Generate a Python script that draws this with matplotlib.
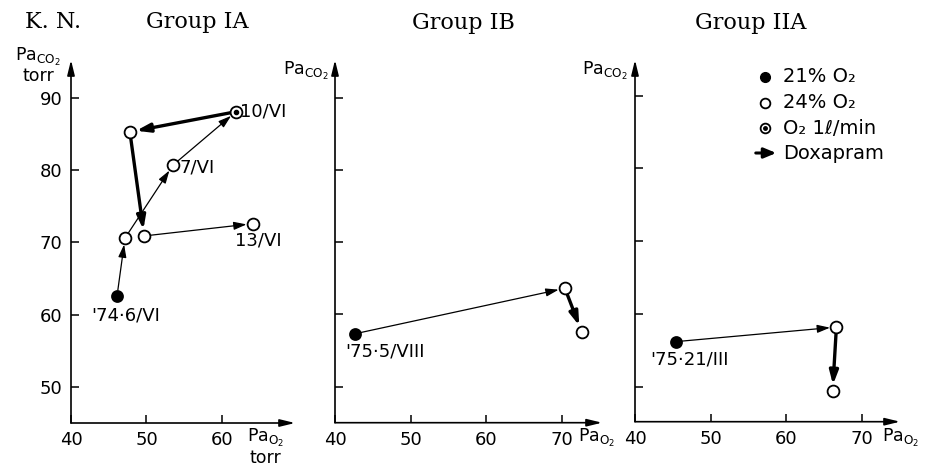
import matplotlib
matplotlib.use("Agg")
import matplotlib.pyplot as plt

# ---------------- data ----------------
titles = ["Group IA", "Group IB", "Group IIA"]

# Group IA (sequential course)
ia_pao2 = [46.1, 47.15, 53.5, 61.85, 47.8, 49.7, 64.1]
ia_paco2 = [62.6, 70.6, 80.7, 88.1, 85.3, 70.9, 72.6]
ia_kind = ["21", "24", "24", "O2", "24", "24", "24"]
ia_doxapram = [False, False, False, True, True, False]
ia_labels = {0: "'74·6/VI", 2: "7/VI", 3: "10/VI", 6: "13/VI"}

# Group IB
ib_pao2 = [42.6, 70.4, 72.6]
ib_paco2 = [57.3, 63.6, 57.6]
ib_kind = ["21", "24", "24"]
ib_doxapram = [False, True]
ib_labels = {0: "'75·5/VIII"}

# Group IIA
iia_pao2 = [45.4, 66.6, 66.1]
iia_paco2 = [56.2, 58.2, 49.4]
iia_kind = ["21", "24", "24"]
iia_doxapram = [False, True]
iia_labels = {0: "'75·21/III"}

y_ticks = [50, 60, 70, 80, 90]
x_ticks_ia = [40, 50, 60]
x_ticks_other = [40, 50, 60, 70]

legend_items = ["21% O₂", "24% O₂", "O₂ 1ℓ/min", "Doxapram"]

# ---------------- figure ----------------
W, H = 930, 470
fig = plt.figure(figsize=(W / 100, H / 100), dpi=100)
fig.patch.set_facecolor("white")
SANS = "DejaVu Sans"
SERIF = "DejaVu Serif"


def fx(px):
    return px / W


def fy(py):
    return 1 - py / H


def make_axes(left, right, bottom, top, xmax, ymin, ymax):
    ax = fig.add_axes([fx(left), fy(bottom), fx(right - left), (bottom - top) / H])
    ax.set_xlim(40, xmax)
    ax.set_ylim(ymin, ymax)
    for s in ax.spines.values():
        s.set_visible(False)
    ax.annotate("", xy=(1, 0), xytext=(0, 0), xycoords="axes fraction",
                arrowprops=dict(arrowstyle="-|>,head_length=0.9,head_width=0.22",
                                lw=1.2, color="k", shrinkA=0, shrinkB=0,
                                mutation_scale=10))
    ax.annotate("", xy=(0, 1), xytext=(0, 0), xycoords="axes fraction",
                arrowprops=dict(arrowstyle="-|>,head_length=0.9,head_width=0.22",
                                lw=1.2, color="k", shrinkA=0, shrinkB=0,
                                mutation_scale=10))
    ax.tick_params(direction="in", length=6, width=1.1, labelsize=13, pad=6,
                   colors="k")
    ax.patch.set_alpha(0)
    return ax


def draw_course(ax, xs, ys, kinds, dox, labels, label_pos):
    for i, d in enumerate(dox):
        if d:
            style = "-|>,head_length=0.5,head_width=0.16"
            lw, ms = 2.4, 16
        else:
            style = "-|>,head_length=0.7,head_width=0.22"
            lw, ms = 0.9, 11
        ax.annotate("", xy=(xs[i + 1], ys[i + 1]), xytext=(xs[i], ys[i]),
                    xycoords="data",
                    arrowprops=dict(arrowstyle=style, lw=lw, color="k",
                                    shrinkA=4.2, shrinkB=4.6, mutation_scale=ms),
                    zorder=2)
    for x, y, k in zip(xs, ys, kinds):
        if k == "21":
            ax.plot(x, y, "o", ms=8, mfc="k", mec="k", mew=1.2, zorder=3,
                    clip_on=False)
        else:
            ax.plot(x, y, "o", ms=8.5, mfc="white", mec="k", mew=1.3, zorder=3,
                    clip_on=False)
            if k == "O2":
                ax.plot(x, y, "o", ms=3, mfc="k", mec="k", zorder=4,
                        clip_on=False)
    for i, txt in labels.items():
        dx, dy, ha, va = label_pos[i]
        ax.annotate(txt, xy=(xs[i], ys[i]), xytext=(dx, dy),
                    textcoords="offset points", ha=ha, va=va, fontsize=13,
                    family=SANS)


# Panel IA
ax1 = make_axes(71, 295, 423, 60, 69.67, 45.0, 95.26)
ax1.set_yticks(y_ticks)
ax1.set_yticklabels([str(v) for v in y_ticks])
ax1.set_xticks(x_ticks_ia)
ax1.set_xticklabels([str(v) for v in x_ticks_ia])
draw_course(ax1, ia_pao2, ia_paco2, ia_kind, ia_doxapram, ia_labels,
            {0: (6, -14, "center", "center"),
             2: (5, -2, "left", "center"),
             3: (3, 0, "left", "center"),
             6: (4, -12, "center", "center")})

# Panel IB
ax2 = make_axes(335, 602, 422.7, 60, 75.3, 45.0, 95.2)
ax2.set_yticks(y_ticks)
ax2.set_yticklabels([])
ax2.set_xticks(x_ticks_other)
ax2.set_xticklabels([str(v) for v in x_ticks_other])
draw_course(ax2, ib_pao2, ib_paco2, ib_kind, ib_doxapram, ib_labels,
            {0: (22, -13, "center", "center")})

# Panel IIA
ax3 = make_axes(635, 900, 421.7, 60, 75.0, 45.2, 94.9)
ax3.set_yticks(y_ticks)
ax3.set_yticklabels([])
ax3.set_xticks(x_ticks_other)
ax3.set_xticklabels([str(v) for v in x_ticks_other])
draw_course(ax3, iia_pao2, iia_paco2, iia_kind, iia_doxapram, iia_labels,
            {0: (10, -13, "center", "center")})

# Titles
fig.text(fx(25), fy(22), "K. N.", family=SERIF, fontsize=16, ha="left", va="center")
fig.text(fx(197), fy(22), titles[0], family=SERIF, fontsize=16, ha="center", va="center")
fig.text(fx(463), fy(23), titles[1], family=SERIF, fontsize=16, ha="center", va="center")
fig.text(fx(751), fy(23), titles[2], family=SERIF, fontsize=16, ha="center", va="center")

# Axis labels
paco2 = r"Pa$_{\mathregular{CO_2}}$"
pao2 = r"Pa$_{\mathregular{O_2}}$"
fig.text(fx(38), fy(57), paco2, family=SANS, fontsize=12.5, ha="center", va="center")
fig.text(fx(38), fy(76), "torr", family=SANS, fontsize=12.5, ha="center", va="center")
fig.text(fx(247), fy(438), pao2, family=SANS, fontsize=12.5, ha="left", va="center")
fig.text(fx(265), fy(458), "torr", family=SANS, fontsize=12.5, ha="center", va="center")
fig.text(fx(329), fy(71), paco2, family=SANS, fontsize=12.5, ha="right", va="center")
fig.text(fx(578), fy(438), pao2, family=SANS, fontsize=12.5, ha="left", va="center")
fig.text(fx(628), fy(71), paco2, family=SANS, fontsize=12.5, ha="right", va="center")
fig.text(fx(882), fy(438), pao2, family=SANS, fontsize=12.5, ha="left", va="center")

# Legend (drawn manually)
rows = [77, 103, 128, 153]
lx, tx = 765, 783
fig.lines.append(plt.Line2D([fx(lx)], [fy(rows[0])], marker="o", ms=7, mfc="k",
                            mec="k", transform=fig.transFigure))
fig.lines.append(plt.Line2D([fx(lx)], [fy(rows[1])], marker="o", ms=7, mfc="white",
                            mec="k", mew=1.3, transform=fig.transFigure))
fig.lines.append(plt.Line2D([fx(lx)], [fy(rows[2])], marker="o", ms=7, mfc="white",
                            mec="k", mew=1.3, transform=fig.transFigure))
fig.lines.append(plt.Line2D([fx(lx)], [fy(rows[2])], marker="o", ms=2.5, mfc="k",
                            mec="k", transform=fig.transFigure))
fig.patches.append(matplotlib.patches.FancyArrowPatch(
    (fx(753), fy(rows[3])), (fx(779), fy(rows[3])), transform=fig.transFigure,
    arrowstyle="-|>,head_length=0.6,head_width=0.25", mutation_scale=12,
    lw=2.2, color="k"))
for r, t in zip(rows, legend_items):
    fig.text(fx(tx), fy(r), t, family=SANS, fontsize=14, ha="left", va="center")

fig.savefig("out.png", dpi=100, facecolor="white")
